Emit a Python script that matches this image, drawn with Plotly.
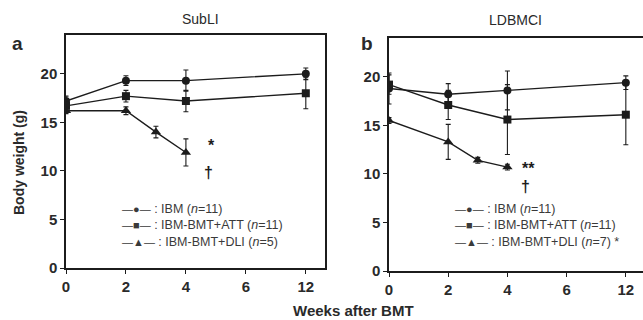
import plotly.graph_objects as go

# ---- data ----
tick_weeks = [0, 2, 4, 6, 12]
tick_labels = ["0", "2", "4", "6", "12"]

weeks_main = [0, 2, 4, 12]
weeks_dli = [0, 2, 3, 4]

# Panel a: SubLI
a_ibm = [17.2, 19.3, 19.3, 20.0]
a_ibm_err = [0.5, 0.5, 1.1, 0.6]
a_att = [16.7, 17.7, 17.2, 18.0]
a_att_err = [0.5, 0.6, 1.1, 1.6]
a_dli = [16.2, 16.2, 14.0, 11.9]
a_dli_err = [0.3, 0.4, 0.6, 1.4]

# Panel b: LDBMCI
b_ibm = [18.8, 18.2, 18.6, 19.4]
b_ibm_err = [1.6, 1.1, 2.0, 0.7]
b_att = [19.2, 17.1, 15.6, 16.1]
b_att_err = [1.0, 1.5, 3.6, 3.1]
b_dli = [15.5, 13.3, 11.4, 10.7]
b_dli_err = [0.3, 1.8, 0.3, 0.3]

series_names = ["IBM", "IBM-BMT+ATT", "IBM-BMT+DLI"]
a_n = ["11", "11", "5"]
b_n = ["11", "11", "7"]
legend_symbols = ["●", "■", "▲"]


def pos(w):
    # axis is broken between 6 and 12: ticks evenly spaced
    return w / 2 if w <= 6 else 4


INK = "#1c1c1c"
FAM = "Liberation Sans, Arial, sans-serif"
fig = go.Figure()


def add(xw, y, err, name, symbol, size, xa, ya):
    fig.add_trace(go.Scatter(
        x=[pos(w) for w in xw], y=y, name=name, mode="lines+markers",
        line=dict(color=INK, width=1.4),
        marker=dict(symbol=symbol, size=size, color=INK),
        error_y=dict(type="data", array=err, visible=True, color=INK, thickness=1.1, width=2.5),
        xaxis=xa, yaxis=ya, showlegend=False))


add(weeks_main, a_ibm, a_ibm_err, series_names[0], "circle", 8, "x", "y")
add(weeks_main, a_att, a_att_err, series_names[1], "square", 8, "x", "y")
add(weeks_dli, a_dli, a_dli_err, series_names[2], "triangle-up", 9, "x", "y")
add(weeks_main, b_ibm, b_ibm_err, series_names[0], "circle", 8, "x2", "y2")
add(weeks_main, b_att, b_att_err, series_names[1], "square", 8, "x2", "y2")
add(weeks_dli, b_dli, b_dli_err, series_names[2], "triangle-up", 9, "x2", "y2")

tickfont = dict(size=15, family=FAM, color="#2a2a2a", weight="bold")
xcommon = dict(tickvals=[pos(w) for w in tick_weeks], ticktext=tick_labels,
               showline=True, linecolor=INK, linewidth=1.5, mirror=True, ticks="outside",
               ticklen=4, tickcolor=INK, showgrid=False, zeroline=False, automargin=False,
               tickfont=tickfont)
ycommon = dict(range=[0, 24], tickvals=[0, 5, 10, 15, 20], showline=True, linecolor=INK,
               linewidth=1.5, mirror=True, ticks="outside", ticklen=4, tickcolor=INK,
               showgrid=False, zeroline=False, automargin=False, tickfont=tickfont)


def paper_text(text, x, y, size, angle=0, weight="normal", xanchor="center", color="#2a2a2a", align="center"):
    return dict(text=text, x=x / 643, y=1 - y / 320, xref="paper", yref="paper",
                xanchor=xanchor, yanchor="middle", showarrow=False, textangle=angle, align=align,
                font=dict(size=size, family=FAM, color=color, weight=weight))


def data_text(text, x, y, xr, yr, size=16):
    return dict(text=text, x=x, y=y, xref=xr, yref=yr, xanchor="center", yanchor="middle",
                showarrow=False, font=dict(size=size, family=FAM, color=INK, weight="bold"))


def legend_block(ns, extra):
    rows = []
    for sym, nm, n, ex in zip(legend_symbols, series_names, ns, extra):
        rows.append('<span style="font-size:11px">—%s—</span> : %s (<i>n</i>=%s)%s' % (sym, nm, n, ex))
    return "<br>".join(rows)


fig.update_layout(
    width=643, height=320, margin=dict(l=0, r=0, t=0, b=0, autoexpand=False),
    paper_bgcolor="white", plot_bgcolor="white",
    xaxis=dict(domain=[66 / 643, 325 / 643], range=[0, 4.32], anchor="y", **xcommon),
    yaxis=dict(domain=[1 - 268 / 320, 1 - 35 / 320], anchor="x", **ycommon),
    xaxis2=dict(domain=[389 / 643, 1.0], range=[0, 4.29], anchor="y2", **xcommon),
    yaxis2=dict(domain=[1 - 271 / 320, 1 - 38 / 320], anchor="x2", **ycommon),
    annotations=[
        paper_text("SubLI", 200, 19, 14),
        paper_text("LDBMCI", 515, 20, 14),
        paper_text("<b>a</b>", 17, 43, 19),
        paper_text("<b>b</b>", 367, 43, 19),
        paper_text("Body weight (g)", 19, 163, 14, -90, "bold"),
        paper_text("Weeks after BMT", 353, 310, 15, 0, "bold"),
        paper_text(legend_block(a_n, ["", "", ""]), 120, 225, 12.5, xanchor="left",
                   color="#3a3a3a", align="left"),
        paper_text(legend_block(b_n, ["", "", " *"]), 453, 225, 12.5, xanchor="left",
                   color="#3a3a3a", align="left"),
        data_text("*", 2.42, 12.6, "x", "y"),
        data_text("†", 2.37, 9.8, "x", "y"),
        data_text("**", 2.36, 10.6, "x2", "y2"),
        data_text("†", 2.31, 8.7, "x2", "y2"),
    ],
)

fig.write_html("out.html", config={"displayModeBar": False},
               post_script="document.body.style.margin='0';")
